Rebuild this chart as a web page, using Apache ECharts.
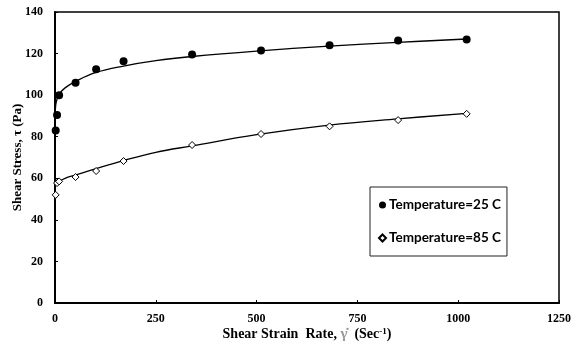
<!DOCTYPE html>
<html>
<head>
<meta charset="utf-8">
<script src="https://cdn.jsdelivr.net/npm/echarts@6/dist/echarts.min.js"></script>
<style>
  html, body { margin: 0; padding: 0; background: #fff; }
  #chart { width: 574px; height: 347px; }
</style>
</head>
<body>
<div id="chart"></div>
<script>
// measured points, shear rate (1/s) vs shear stress (Pa)
const rate25 = [1.7, 5.1, 10.2, 51, 102, 170, 340, 511, 681, 851, 1021];
const stress25 = [83, 90.5, 100, 106, 112.5, 116.3, 119.6, 121.5, 124, 126.3, 126.8];
const rate85 = [1.7, 5.1, 10.2, 51, 102, 170, 340, 511, 681, 851, 1021];
const stress85 = [52, 57.7, 58.5, 60.6, 63.5, 68.3, 76, 81.3, 85, 88, 91];

// fitted trend curves
const fitRate = [0.5, 2, 5, 10, 25, 50, 100, 170, 250, 340, 500, 680, 850, 1021];
const fit25 = [91, 95.5, 98, 100.5, 103.5, 106.5, 110.8, 114, 116.6, 118.6, 121.2, 123.6, 125.4, 127];
const fit85 = [56, 56.8, 57.5, 58.5, 60, 61.5, 64.5, 68.5, 72.5, 75.6, 81, 85.6, 88.6, 91.2];

const xTicks = [0, 250, 500, 750, 1000, 1250];
const yTicks = [0, 20, 40, 60, 80, 100, 120, 140];

const pairs = (xs, ys) => xs.map((x, i) => [x, ys[i]]);

const chart = echarts.init(document.getElementById('chart'), null, { renderer: 'canvas' });

const tickFont = {
    color: '#000',
    fontFamily: 'Liberation Serif',
    fontWeight: 'bold',
    fontSize: 12
};

const option = {
    animation: false,
    backgroundColor: '#fff',
    grid: {
        left: 55,
        right: 15,
        top: 12,
        bottom: 44,
        containLabel: false,
        outerBoundsMode: 'none',
        show: true,
        borderColor: '#000',
        borderWidth: 1.5
    },
    legend: {
        data: ['Temperature=25 C', 'Temperature=85 C'],
        orient: 'vertical',
        left: 370,
        top: 187,
        padding: [11, 6, 11, 8],
        itemGap: 19,
        itemWidth: 7,
        itemHeight: 7,
        borderColor: '#222',
        borderWidth: 1,
        backgroundColor: '#fff',
        textStyle: {
            color: '#000',
            fontFamily: 'Lato',
            fontWeight: 'bold',
            fontSize: 13.5,
            padding: [0, 0, 0, -2]
        }
    },
    xAxis: {
        type: 'value',
        min: 0,
        max: 1250,
        interval: 250,
        axisLine: { lineStyle: { color: '#000', width: 2 } },
        axisTick: { inside: true, length: 3, lineStyle: { color: '#000' } },
        splitLine: { show: false },
        axisLabel: Object.assign({
            margin: 10,
            formatter: v => (xTicks.includes(v) ? String(v) : '')
        }, tickFont),
        name: 'Shear Strain  Rate, {g|γ̇}  (Sec{s|-1})',
        nameLocation: 'middle',
        nameMoveOverlap: false,
        nameGap: 24,
        nameTextStyle: {
            color: '#000',
            fontFamily: 'Liberation Serif',
            fontWeight: 'bold',
            fontSize: 14,
            rich: {
                g: { color: '#999', fontFamily: 'Liberation Serif', fontWeight: 'bold', fontSize: 15 },
                s: { color: '#000', fontFamily: 'Liberation Serif', fontWeight: 'bold', fontSize: 9, verticalAlign: 'top', padding: [0, 0, 5, 0] }
            }
        }
    },
    yAxis: {
        type: 'value',
        min: 0,
        max: 140,
        interval: 20,
        axisLine: { lineStyle: { color: '#000', width: 2 } },
        axisTick: { inside: true, length: 3, lineStyle: { color: '#000' } },
        splitLine: { show: false },
        axisLabel: Object.assign({
            margin: 12,
            formatter: v => (yTicks.includes(v) ? String(v) : '')
        }, tickFont),
        name: 'Shear Stress, τ (Pa)',
        nameLocation: 'middle',
        nameMoveOverlap: false,
        nameGap: 31,
        nameTextStyle: {
            color: '#000',
            fontFamily: 'Liberation Serif',
            fontWeight: 'bold',
            fontSize: 13
        }
    },
    series: [
        {
            name: 'fit25',
            type: 'line',
            data: pairs(fitRate, fit25),
            smooth: 0.4,
            showSymbol: false,
            lineStyle: { color: '#000', width: 1.3 },
            z: 1
        },
        {
            name: 'fit85',
            type: 'line',
            data: pairs(fitRate, fit85),
            smooth: 0.4,
            showSymbol: false,
            lineStyle: { color: '#000', width: 1.3 },
            z: 1
        },
        {
            name: 'Temperature=25 C',
            type: 'scatter',
            data: pairs(rate25, stress25),
            symbol: 'circle',
            symbolSize: 8,
            itemStyle: { color: '#000', opacity: 1 },
            z: 3
        },
        {
            name: 'Temperature=85 C',
            type: 'scatter',
            data: pairs(rate85, stress85),
            symbol: 'diamond',
            symbolSize: 7,
            itemStyle: { color: '#fff', borderColor: '#000', borderWidth: 1, opacity: 1 },
            z: 3
        }
    ]
};

chart.setOption(option);
</script>
</body>
</html>
